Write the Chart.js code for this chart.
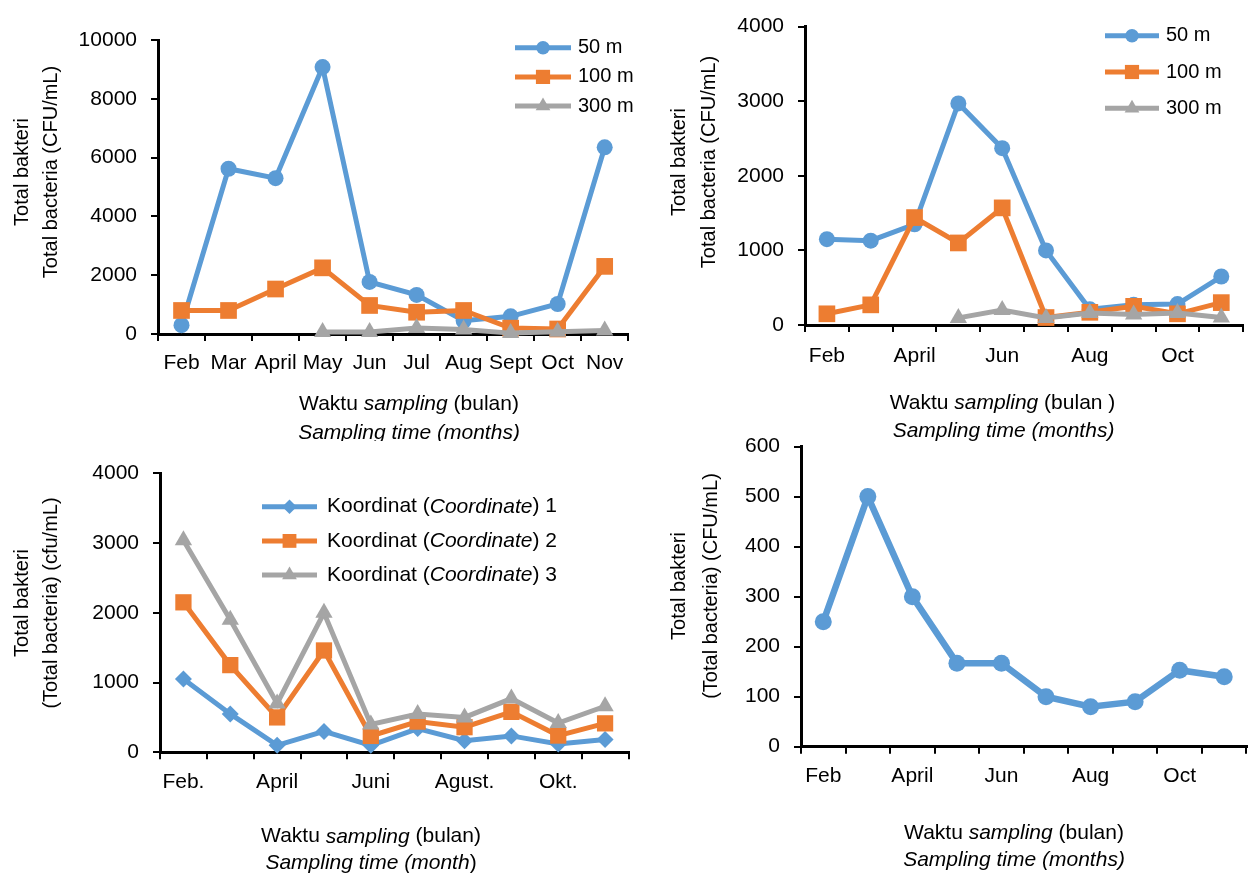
<!DOCTYPE html>
<html>
<head>
<meta charset="utf-8">
<script src="https://cdn.jsdelivr.net/npm/chart.js@4.4.0/dist/chart.umd.min.js"></script>
<style>
html, body { margin: 0; padding: 0; background: #fff; }
body { width: 1255px; height: 877px; position: relative; overflow: hidden; }
canvas { position: absolute; }
</style>
</head>
<body>
<canvas id="chartA" width="640" height="441" style="left:0px;top:0px"></canvas>
<canvas id="chartB" width="615" height="442" style="left:640px;top:0px"></canvas>
<canvas id="chartC" width="640" height="435" style="left:0px;top:442px"></canvas>
<canvas id="chartD" width="615" height="457" style="left:640px;top:420px"></canvas>
<script>
// categories
const months = ['Feb', 'Mar', 'April', 'May', 'Jun', 'Jul', 'Aug', 'Sept', 'Oct', 'Nov'];
const bulan = ['Feb.', 'Mar.', 'April', 'Mei', 'Juni', 'Juli', 'Agust.', 'Sept.', 'Okt.', 'Nov.'];
const depthNames = ['50 m', '100 m', '300 m'];
const coordNames = ['Koordinat (*Coordinate*) 1', 'Koordinat (*Coordinate*) 2', 'Koordinat (*Coordinate*) 3'];

// top left
const a50 = [300, 5620, 5300, 9080, 1770, 1330, 450, 600, 1020, 6350];
const a100 = [800, 800, 1530, 2250, 970, 740, 800, 200, 170, 2300];
const a300 = [null, null, null, 70, 70, 200, 150, 30, 80, 120];

// top right
const b50 = [1150, 1130, 1350, 2970, 2370, 1000, 210, 270, 280, 650];
const b100 = [150, 270, 1440, 1100, 1570, 100, 170, 250, 150, 300];
const b300 = [null, null, null, 95, 200, 95, 160, 140, 160, 100];

// bottom left
const c1 = [1050, 550, 100, 300, 100, 340, 165, 235, 120, 185];
const c2 = [2150, 1250, 500, 1460, 235, 440, 360, 580, 240, 415];
const c3 = [3040, 1900, 700, 2000, 400, 550, 500, 770, 420, 660];

// bottom right
const d1 = [250, 500, 300, 167, 167, 100, 80, 90, 153, 140];

// y axis ranges [min, max, step]
const yA = [0, 10000, 2000];
const yB = [0, 4000, 1000];
const yC = [0, 4000, 1000];
const yD = [0, 600, 100];

const BLUE = '#5B9BD5', ORANGE = '#ED7D31', GREY = '#A5A5A5';
const SANS = "'Liberation Sans', Arial, sans-serif";
Chart.defaults.font.family = SANS;
Chart.defaults.color = '#000';

// "*word*" marks italic parts of a label
function runsOf(str) {
    return str.split('*').map((t, i) => ({ t, it: i % 2 === 1 })).filter(r => r.t.length);
}

function drawRuns(ctx, item) {
    const parts = runsOf(item.text);
    ctx.save();
    ctx.translate(item.x, item.y);
    if (item.rot) ctx.rotate(item.rot);
    ctx.fillStyle = '#000';
    ctx.textBaseline = 'middle';
    ctx.textAlign = 'left';
    let total = 0;
    parts.forEach(p => {
        ctx.font = (p.it ? 'italic ' : '') + item.size + 'px ' + SANS;
        p.w = ctx.measureText(p.t).width;
        total += p.w;
    });
    let x = item.align === 'left' ? 0 : -total / 2;
    parts.forEach(p => {
        ctx.font = (p.it ? 'italic ' : '') + item.size + 'px ' + SANS;
        ctx.fillText(p.t, x, 0);
        x += p.w;
    });
    ctx.restore();
}

const panelText = {
    id: 'panelText',
    afterDraw(chart, args, opts) {
        const ctx = chart.ctx;
        (opts.titles || []).forEach(t => drawRuns(ctx, t));
        const lg = opts.legend;
        if (!lg) return;
        chart.data.datasets.forEach((ds, i) => {
            const y = lg.y + i * lg.gap;
            ctx.save();
            ctx.strokeStyle = ds.borderColor;
            ctx.lineWidth = ds.borderWidth;
            ctx.beginPath();
            ctx.moveTo(lg.x0, y);
            ctx.lineTo(lg.x1, y);
            ctx.stroke();
            ctx.fillStyle = ds.backgroundColor;
            Chart.helpers.drawPoint(ctx, { pointStyle: ds.pointStyle, radius: ds.pointRadius * 0.85, rotation: 0, borderWidth: 0 }, (lg.x0 + lg.x1) / 2, y);
            ctx.restore();
            drawRuns(ctx, { text: ds.legendText, x: lg.tx, y, size: lg.size, align: 'left' });
        });
    }
};

function series(name, data, color, style, r, order, width = 5) {
    return {
        label: name.replace(/\*/g, ''),
        legendText: name,
        data,
        borderColor: color,
        backgroundColor: color,
        pointBackgroundColor: color,
        pointBorderWidth: 0,
        pointStyle: style,
        pointRadius: r,
        borderWidth: width,
        order,
        tension: 0,
        clip: false,
        spanGaps: false
    };
}

function makeChart(id, cfg) {
    const axisGrid = { display: true, drawOnChartArea: false, drawTicks: true, tickLength: 7, tickWidth: 2, tickColor: '#000', color: '#000', lineWidth: 2 };
    return new Chart(document.getElementById(id), {
        type: 'line',
        data: { labels: cfg.labels, datasets: cfg.datasets },
        plugins: [panelText],
        options: {
            responsive: false,
            animation: false,
            events: [],
            layout: { padding: cfg.padding },
            plugins: {
                legend: { display: false },
                tooltip: { enabled: false },
                panelText: { titles: cfg.titles, legend: cfg.legend }
            },
            scales: {
                x: {
                    type: 'category',
                    offset: true,
                    grid: Object.assign({ offset: true }, axisGrid),
                    border: { display: true, color: '#000', width: 3 },
                    ticks: {
                        color: '#000',
                        font: { size: 21 },
                        padding: cfg.xPad,
                        maxRotation: 0,
                        minRotation: 0,
                        autoSkip: false,
                        callback: function (v, i) {
                            return i % cfg.every === 0 ? this.getLabelForValue(v) : '';
                        }
                    },
                    afterFit(s) { s.height = 60; }
                },
                y: {
                    min: cfg.y[0],
                    max: cfg.y[1],
                    grid: axisGrid,
                    border: { display: true, color: '#000', width: 3 },
                    ticks: { stepSize: cfg.y[2], color: '#000', font: { size: 21 }, padding: 14, callback: v => String(v) },
                    afterFit(s) { s.width = 90; }
                }
            }
        }
    });
}

const V = -Math.PI / 2;

makeChart('chartA', {
    labels: months,
    y: yA,
    every: 1,
    xPad: 10,
    padding: { left: 68, right: 6, top: 40, bottom: 47 },
    datasets: [
        series(depthNames[0], a50, BLUE, 'circle', 8, 3),
        series(depthNames[1], a100, ORANGE, 'rect', 11.8, 2),
        series(depthNames[2], a300, GREY, 'triangle', 10, 1)
    ],
    legend: { x0: 515, x1: 571, tx: 578, y: 47.7, gap: 29.2, size: 20 },
    titles: [
        { text: 'Total bakteri', x: 22.6, y: 172, rot: V, size: 20 },
        { text: 'Total bacteria (CFU/mL)', x: 51, y: 172, rot: V, size: 20 },
        { text: 'Waktu *sampling* (bulan)', x: 409, y: 404, size: 21 },
        { text: '*Sampling time (months)*', x: 409, y: 433.5, size: 21 }
    ]
});

makeChart('chartB', {
    labels: months,
    y: yB,
    every: 2,
    xPad: 12,
    padding: { left: 75, right: 4, top: 18, bottom: 57 },
    datasets: [
        series(depthNames[0], b50, BLUE, 'circle', 8, 3),
        series(depthNames[1], b100, ORANGE, 'rect', 11.8, 2),
        series(depthNames[2], b300, GREY, 'triangle', 10, 1)
    ],
    legend: { x0: 465, x1: 519, tx: 526, y: 35.7, gap: 36.3, size: 20 },
    titles: [
        { text: 'Total bakteri', x: 39.4, y: 162, rot: V, size: 20 },
        { text: 'Total bacteria (CFU/mL)', x: 69, y: 162, rot: V, size: 20 },
        { text: 'Waktu *sampling* (bulan )', x: 362.5, y: 403, size: 21 },
        { text: '*Sampling time (months)*', x: 363.5, y: 431, size: 21 }
    ]
});

makeChart('chartC', {
    labels: bulan,
    y: yC,
    every: 2,
    xPad: 10,
    padding: { left: 70, right: 9, top: 31.3, bottom: 64.7 },
    datasets: [
        series(coordNames[0], c1, BLUE, 'rectRot', 8.5, 3),
        series(coordNames[1], c2, ORANGE, 'rect', 11.5, 2),
        series(coordNames[2], c3, GREY, 'triangle', 10, 1)
    ],
    legend: { x0: 262, x1: 317, tx: 327, y: 64.7, gap: 34.2, size: 21 },
    titles: [
        { text: 'Total bakteri', x: 22.6, y: 161, rot: V, size: 20 },
        { text: '(Total bacteria) (cfu/mL)', x: 51.3, y: 161, rot: V, size: 20 },
        { text: 'Waktu *sampling* (bulan)', x: 371, y: 394.7, size: 21 },
        { text: '*Sampling time (month*)', x: 371, y: 421, size: 21 }
    ]
});

makeChart('chartD', {
    labels: months,
    y: yD,
    every: 2,
    xPad: 10,
    padding: { left: 71, right: 4, top: 18.3, bottom: 70.3 },
    datasets: [
        series('Total bakteri', d1, BLUE, 'circle', 8.5, 1, 6.5)
    ],
    titles: [
        { text: 'Total bakteri', x: 39.4, y: 166, rot: V, size: 20 },
        { text: '(Total bacteria) (CFU/mL)', x: 71, y: 166, rot: V, size: 20 },
        { text: 'Waktu *sampling* (bulan)', x: 374, y: 413, size: 21 },
        { text: '*Sampling time (months)*', x: 374, y: 440, size: 21 }
    ]
});
</script>
</body>
</html>
